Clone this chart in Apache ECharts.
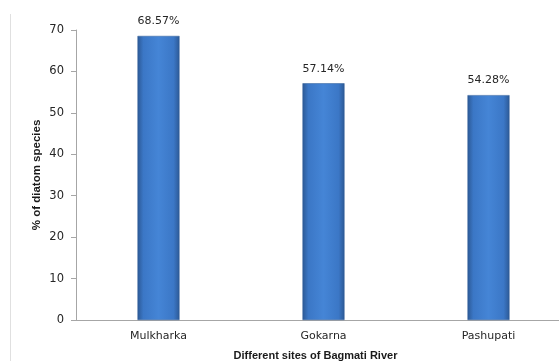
<!DOCTYPE html>
<html>
<head>
<meta charset="utf-8">
<script src="https://cdn.jsdelivr.net/npm/echarts@6/dist/echarts.min.js"></script>
<style>
  html, body { margin: 0; padding: 0; background: #ffffff; }
  #chart { width: 559px; height: 361px; }
</style>
</head>
<body>
<div id="chart"></div>
<script>
// Sites sampled along the river and the share of diatom species at each
const sites = ['Mulkharka', 'Gokarna', 'Pashupati'];
const diatomPercent = [68.57, 57.14, 54.28];
const yTicks = { min: 0, max: 70, interval: 10 };

const chart = echarts.init(document.getElementById('chart'), null, { renderer: 'canvas' });

// Cylinder-like shading across each bar
const barFill = new echarts.graphic.LinearGradient(0, 0, 1, 0, [
  { offset: 0, color: '#2c5995' },
  { offset: 0.14, color: '#3b77c6' },
  { offset: 0.5, color: '#4585d6' },
  { offset: 0.86, color: '#3b77c6' },
  { offset: 1, color: '#2c5995' }
]);

chart.setOption({
  animation: false,
  textStyle: { fontFamily: 'DejaVu Sans' },
  graphic: [{
    type: 'line',
    shape: { x1: 10.5, y1: 14, x2: 10.5, y2: 361 },
    style: { stroke: '#e0e0e0', lineWidth: 1 }
  }],
  grid: { left: 76, top: 30, width: 495, height: 290, outerBoundsMode: 'none', containLabel: false },
  xAxis: {
    type: 'category',
    data: sites,
    axisLine: { lineStyle: { color: '#a6a6a6', width: 1 } },
    axisTick: { show: false },
    axisLabel: { color: '#262626', fontSize: 11, margin: 11, fontFamily: 'DejaVu Sans' },
    name: 'Different sites of Bagmati River',
    nameLocation: 'middle',
    nameGap: 30,
    nameTextStyle: { fontWeight: 'bold', fontSize: 11, color: '#1a1a1a', fontFamily: 'Liberation Sans', padding: [0, 16, 0, 0] }
  },
  yAxis: {
    type: 'value',
    min: yTicks.min,
    max: yTicks.max,
    interval: yTicks.interval,
    splitLine: { show: false },
    axisLine: { show: true, lineStyle: { color: '#a6a6a6', width: 1 } },
    axisTick: { show: true, length: 5, lineStyle: { color: '#a6a6a6' } },
    axisLabel: { color: '#262626', fontSize: 11.5, margin: 12, fontFamily: 'DejaVu Sans' },
    name: '% of diatom species',
    nameLocation: 'middle',
    nameGap: 33,
    nameMoveOverlap: false,
    nameRotate: 90,
    nameTextStyle: { fontWeight: 'bold', fontSize: 11.5, color: '#1a1a1a', fontFamily: 'Liberation Sans' }
  },
  series: [{
    type: 'bar',
    data: diatomPercent,
    barWidth: 42,
    itemStyle: { color: barFill, borderColor: '#2d5b97', borderWidth: 0.5 },
    label: {
      show: true,
      position: 'top',
      distance: 9,
      formatter: p => p.value.toFixed(2) + '%',
      color: '#262626',
      fontSize: 11,
      fontFamily: 'DejaVu Sans'
    }
  }]
});
</script>
</body>
</html>
